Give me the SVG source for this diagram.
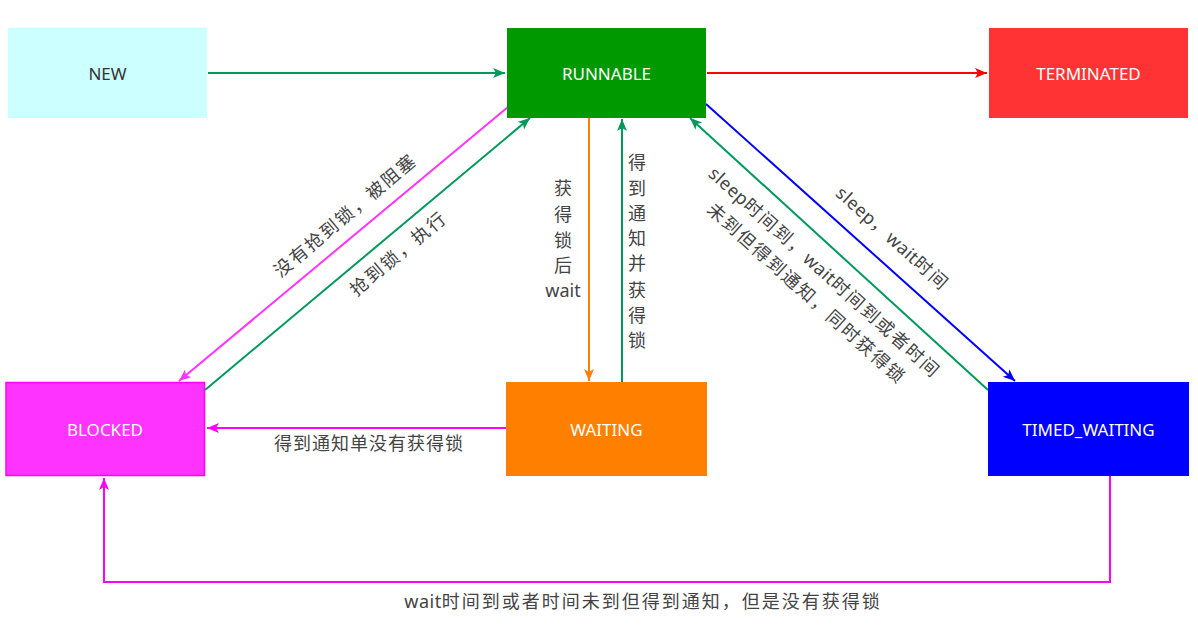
<svg xmlns="http://www.w3.org/2000/svg" width="1198" height="639" viewBox="0 0 1198 639">
<style>
.node-text{font-family:"Noto Sans","Noto Sans CJK SC",sans-serif;font-size:17px;text-anchor:middle;dominant-baseline:central}
.lbl{font-family:"Noto Sans","Noto Sans CJK SC",sans-serif;font-size:18px;fill:#444;letter-spacing:2px;text-anchor:middle;dominant-baseline:central}
.lat{letter-spacing:0.5px}
.vl{font-family:"Noto Sans","Noto Sans CJK SC",sans-serif;font-size:18px;fill:#444;text-anchor:middle;dominant-baseline:central}
.e{fill:none;stroke-width:2}
</style>
<defs>
<marker id="ag" markerUnits="userSpaceOnUse" markerWidth="14" markerHeight="12" refX="12" refY="5" orient="auto"><path d="M0,0 L12,5 L0,10 L3,5 z" fill="#00995A"/></marker>
<marker id="ar" markerUnits="userSpaceOnUse" markerWidth="14" markerHeight="12" refX="12" refY="5" orient="auto"><path d="M0,0 L12,5 L0,10 L3,5 z" fill="#FF0000"/></marker>
<marker id="ab" markerUnits="userSpaceOnUse" markerWidth="14" markerHeight="12" refX="12" refY="5" orient="auto"><path d="M0,0 L12,5 L0,10 L3,5 z" fill="#0000FF"/></marker>
<marker id="ao" markerUnits="userSpaceOnUse" markerWidth="14" markerHeight="12" refX="12" refY="5" orient="auto"><path d="M0,0 L12,5 L0,10 L3,5 z" fill="#FF8000"/></marker>
<marker id="am" markerUnits="userSpaceOnUse" markerWidth="14" markerHeight="12" refX="12" refY="5" orient="auto"><path d="M0,0 L12,5 L0,10 L3,5 z" fill="#FF00FF"/></marker>
<marker id="am2" markerUnits="userSpaceOnUse" markerWidth="14" markerHeight="12" refX="12" refY="5" orient="auto"><path d="M0,0 L12,5 L0,10 L3,5 z" fill="#FF33FF"/></marker>
</defs>
<rect width="1198" height="639" fill="#FFFFFF"/>
<g id="connectors">
<line class="e" x1="208" y1="73" x2="505" y2="73" stroke="#00995A" marker-end="url(#ag)"/>
<line class="e" x1="707" y1="73" x2="987" y2="73" stroke="#FF0000" marker-end="url(#ar)"/>
<line class="e" x1="508" y1="107" x2="179" y2="381" stroke="#FF33FF" marker-end="url(#am2)"/>
<line class="e" x1="205" y1="390" x2="530" y2="118" stroke="#00995A" marker-end="url(#ag)"/>
<line class="e" x1="589" y1="118" x2="589" y2="381" stroke="#FF8000" marker-end="url(#ao)"/>
<line class="e" x1="622" y1="382" x2="622" y2="119" stroke="#00995A" marker-end="url(#ag)"/>
<line class="e" x1="506" y1="428" x2="207" y2="428" stroke="#FF00FF" marker-end="url(#am)"/>
<line class="e" x1="706" y1="104" x2="1015" y2="381" stroke="#0000FF" marker-end="url(#ab)"/>
<line class="e" x1="988" y1="390" x2="690" y2="118" stroke="#00995A" marker-end="url(#ag)"/>
<polyline class="e" points="1110,476 1110,582 104,582 104,478" stroke="#FF00FF" marker-end="url(#am)"/>
<text class="lbl" transform="translate(345,215) rotate(-40)">没有抢到锁，被阻塞</text>
<text class="lbl" transform="translate(398,253) rotate(-40)">抢到锁，执行</text>
<text class="vl" x="563"><tspan x="563" y="188">获</tspan><tspan x="563" y="214">得</tspan><tspan x="563" y="240">锁</tspan><tspan x="563" y="265">后</tspan><tspan x="563" y="290">wait</tspan></text>
<text class="vl" x="637"><tspan x="637" y="162">得</tspan><tspan x="637" y="188">到</tspan><tspan x="637" y="213">通</tspan><tspan x="637" y="238">知</tspan><tspan x="637" y="263">并</tspan><tspan x="637" y="290">获</tspan><tspan x="637" y="315">得</tspan><tspan x="637" y="340">锁</tspan></text>
<text class="lbl" x="369" y="443" style="letter-spacing:1px">得到通知单没有获得锁</text>
<text class="lbl" transform="translate(893,238) rotate(42)"><tspan class="lat">sleep</tspan>，<tspan class="lat">wait</tspan>时间</text>
<text class="lbl" transform="translate(825,272) rotate(42)"><tspan class="lat">sleep</tspan>时间到，<tspan class="lat">wait</tspan>时间到或者时间</text>
<text class="lbl" transform="translate(807,293) rotate(42)">未到但得到通知，同时获得锁</text>
<text class="lbl" x="643" y="601"><tspan class="lat">wait</tspan>时间到或者时间未到但得到通知，但是没有获得锁</text>
</g>
<g id="node-new"><rect x="8" y="28" width="199" height="90" fill="#CCFFFF"/><text class="node-text" x="107.5" y="73" fill="#333333">NEW</text></g>
<g id="node-runnable"><rect x="507" y="28" width="199" height="90" fill="#009900"/><text class="node-text" x="606.5" y="73" fill="#FFFFFF">RUNNABLE</text></g>
<g id="node-terminated"><rect x="989" y="28" width="199" height="90" fill="#FF3333"/><text class="node-text" x="1088.5" y="73" fill="#FFFFFF">TERMINATED</text></g>
<g id="node-blocked"><rect x="6" y="382.5" width="198.5" height="93" fill="#FF33FF" stroke="#FF00FF" stroke-width="1.5"/><text class="node-text" x="105" y="429" fill="#FFFFFF">BLOCKED</text></g>
<g id="node-waiting"><rect x="506" y="382" width="201" height="94" fill="#FF8000"/><text class="node-text" x="606.5" y="429" fill="#FFFFFF">WAITING</text></g>
<g id="node-timed-waiting"><rect x="988" y="382" width="201" height="94" fill="#0000FF"/><text class="node-text" x="1088.5" y="429" fill="#FFFFFF">TIMED_WAITING</text></g>
</svg>
